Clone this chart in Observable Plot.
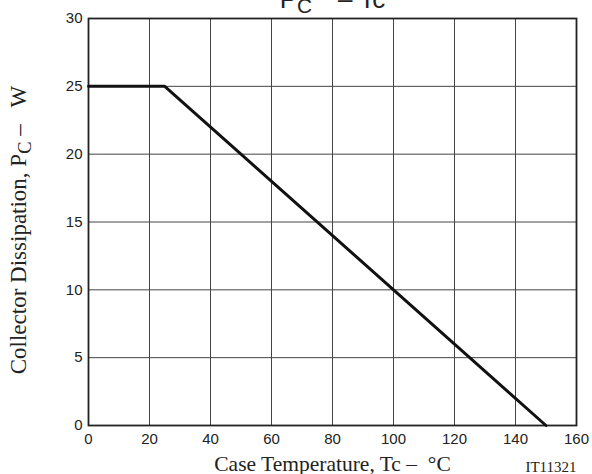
<!DOCTYPE html>
<html><head><meta charset="utf-8">
<script src="https://cdn.jsdelivr.net/npm/d3@7"></script>
<script src="https://cdn.jsdelivr.net/npm/@observablehq/plot@0.6"></script>
<style>body{margin:0;background:#fff}#chart{width:592px;height:474px;overflow:hidden}</style>
</head><body><div id="chart"></div>
<script>
// Data
const caseTempC = [0, 25, 150];
const dissipationW = [25, 25, 0];
const xTicks = [0, 20, 40, 60, 80, 100, 120, 140, 160];
const yTicks = [0, 5, 10, 15, 20, 25, 30];
const titleMain = "P", titleSub = "C", titleRest = "\u2003\u2013 Tc";
const xLabel = "Case Temperature, Tc \u2013 \u00a0\u00b0C";
const yLabelMain = "Collector Dissipation, P", yLabelSub = "C", yLabelRest = " \u2013\u00a0\u00a0 W";
const codeLabel = "IT11321";

const data = caseTempC.map((t, i) => ({t, p: dissipationW[i]}));
const sans = "'Liberation Sans', Arial, sans-serif";
const serif = "'Liberation Serif', 'Times New Roman', serif";

const chart = Plot.plot({
  width: 592, height: 474,
  marginLeft: 88, marginRight: 16, marginTop: 18, marginBottom: 49,
  x: {domain: [0, 160]},
  y: {domain: [0, 30]},
  style: {background: "#fff", color: "#222", overflow: "visible"},
  marks: [
    Plot.gridX(xTicks, {stroke: "#444", strokeOpacity: 1, strokeWidth: 1}),
    Plot.gridY(yTicks, {stroke: "#444", strokeOpacity: 1, strokeWidth: 1}),
    Plot.frame({stroke: "#222", strokeWidth: 1.8}),
    Plot.line(data, {x: "t", y: "p", stroke: "#111", strokeWidth: 3}),
    Plot.axisX(xTicks, {tickSize: 0, tickPadding: 8, fontSize: 15, fontFamily: sans, fill: "#222", label: null}),
    Plot.axisY(yTicks, {tickSize: 0, tickPadding: 6, fontSize: 15, fontFamily: sans, fill: "#222", label: null}),
    Plot.text([titleMain + titleSub + titleRest], {frameAnchor: "top", textAnchor: "middle", lineAnchor: "bottom", dy: -11, fontSize: 26, fontFamily: sans, fill: "#222"}),
    Plot.text([xLabel], {frameAnchor: "bottom", textAnchor: "middle", lineAnchor: "bottom", dy: 45, fontSize: 21.5, fontFamily: serif, fill: "#222"}),
    Plot.text([codeLabel], {frameAnchor: "bottom-right", textAnchor: "end", lineAnchor: "bottom", dy: 46, fontSize: 15, fontFamily: serif, fill: "#222"}),
    Plot.text([yLabelMain + yLabelSub + yLabelRest], {frameAnchor: "left", textAnchor: "middle", lineAnchor: "middle", rotate: -90, dx: -70, dy: 8, fontSize: 23, fontFamily: serif, fill: "#222"})
  ]
});

// Rebuild texts that contain subscripts with tspans
function subscript(full, main, sub, rest) {
  d3.select(chart).selectAll("text").filter(function() { return this.textContent === full; })
    .each(function() {
      const t = d3.select(this);
      t.text(null);
      t.append("tspan").text(main);
      t.append("tspan").attr("baseline-shift", "-25%").attr("font-size", "80%").text(sub);
      t.append("tspan").text(rest);
    });
}
subscript(titleMain + titleSub + titleRest, titleMain, titleSub, titleRest);
subscript(yLabelMain + yLabelSub + yLabelRest, yLabelMain, yLabelSub, yLabelRest);

document.getElementById("chart").appendChild(chart);
</script></body></html>
